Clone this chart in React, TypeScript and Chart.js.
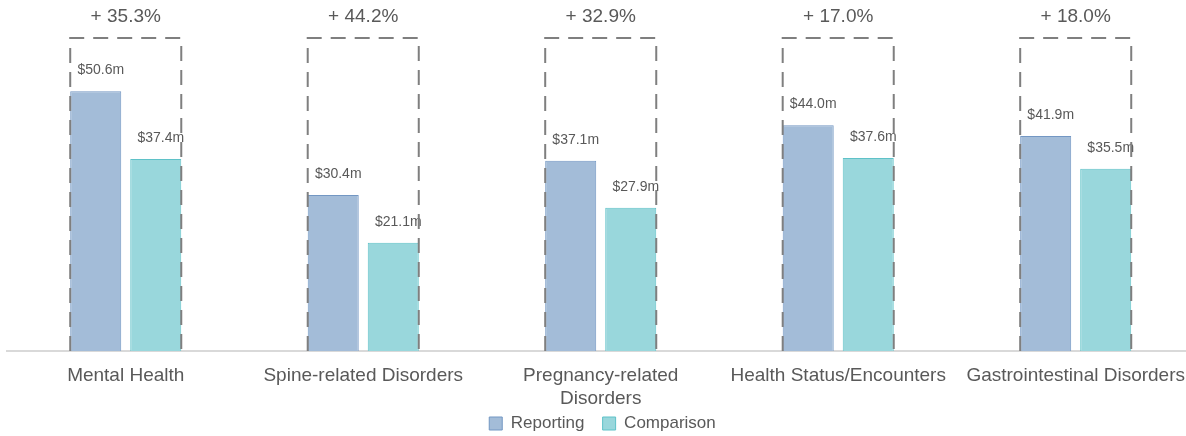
import React, { useEffect, useRef } from "react";
import { Chart, registerables } from "chart.js";

Chart.register(...registerables);

const categories: (string | string[])[] = [
  "Mental Health",
  "Spine-related Disorders",
  ["Pregnancy-related", "Disorders"],
  "Health Status/Encounters",
  "Gastrointestinal Disorders",
];
const reporting = [50.6, 30.4, 37.1, 44.0, 41.9];
const comparison = [37.4, 21.1, 27.9, 37.6, 35.5];
const changeLabels = ["+ 35.3%", "+ 44.2%", "+ 32.9%", "+ 17.0%", "+ 18.0%"];
const seriesNames = ["Reporting", "Comparison"];
const yMax = 61;

const FONT = "'Liberation Sans', Arial, Helvetica, sans-serif";
const TEXT = "#595959";

const overlayPlugin = {
  id: "overlay",
  afterDatasetsDraw(chart: any) {
    const ctx = chart.ctx;
    const m0 = chart.getDatasetMeta(0);
    const m1 = chart.getDatasetMeta(1);
    const yScale = chart.scales.y;
    const top = yScale.getPixelForValue(yMax);
    const base = yScale.getPixelForValue(0);
    ctx.save();
    ctx.font = `14px ${FONT}`;
    ctx.fillStyle = TEXT;
    ctx.textAlign = "center";
    ctx.textBaseline = "middle";
    [m0, m1].forEach((meta: any, di: number) => {
      meta.data.forEach((bar: any, i: number) => {
        const v = chart.data.datasets[di].data[i] as number;
        ctx.fillText(`$${v.toFixed(1)}m`, bar.x + 5, bar.y - 21);
      });
    });
    m0.data.forEach((b0: any, i: number) => {
      const b1 = m1.data[i];
      const left = b0.x - b0.width / 2;
      const right = b1.x + b1.width / 2;
      ctx.setLineDash([15, 9]);
      ctx.lineWidth = 2;
      ctx.strokeStyle = "#7f7f7f";
      ctx.beginPath();
      ctx.moveTo(left, base);
      ctx.lineTo(left, top);
      ctx.lineTo(right, top);
      ctx.lineTo(right, base);
      ctx.stroke();
      ctx.setLineDash([]);
      ctx.font = `19px ${FONT}`;
      ctx.fillStyle = TEXT;
      ctx.fillText(changeLabels[i], (left + right) / 2, top - 21);
    });
    ctx.restore();
  },
};

export default function App() {
  const ref = useRef<HTMLCanvasElement>(null);
  useEffect(() => {
    document.body.style.margin = "0";
    if (!ref.current) return;
    const chart = new Chart(ref.current, {
      type: "bar",
      data: {
        labels: categories,
        datasets: [
          {
            label: seriesNames[0],
            data: reporting,
            backgroundColor: "#a3bcd8",
            borderColor: "#7397c3",
            borderWidth: 1,
            categoryPercentage: 0.5055,
            barPercentage: 0.85,
          },
          {
            label: seriesNames[1],
            data: comparison,
            backgroundColor: "#99d7dc",
            borderColor: "#5fc2c8",
            borderWidth: 1,
            categoryPercentage: 0.5055,
            barPercentage: 0.85,
          },
        ],
      },
      options: {
        responsive: false,
        animation: false,
        devicePixelRatio: 1,
        layout: { padding: { left: 7, top: 38, right: 0, bottom: 0 } },
        scales: {
          x: {
            grid: { display: false, drawTicks: false },
            border: { display: true, color: "#d9d9d9", width: 2 },
            ticks: {
              color: TEXT,
              font: { family: FONT, size: 19, lineHeight: 1.21 },
              padding: 13,
              maxRotation: 0,
              autoSkip: false,
            },
            afterFit: (scale: any) => {
              scale.height -= 12;
            },
          },
          y: { display: false, min: 0, max: yMax },
        },
        plugins: {
          legend: {
            position: "bottom",
            labels: {
              color: TEXT,
              font: { family: FONT, size: 17 },
              boxWidth: 13,
              boxHeight: 13,
              padding: 4,
              generateLabels: (c: any) =>
                Chart.defaults.plugins.legend.labels
                  .generateLabels(c)
                  .map((l: any, i: number) => ({ ...l, text: i === 0 ? l.text + "   " : l.text })),
            },
          },
          tooltip: { enabled: false },
        },
      },
      plugins: [overlayPlugin],
    });
    return () => chart.destroy();
  }, []);
  return (
    <div style={{ width: 1186, height: 436, overflow: "hidden", background: "#fff" }}>
      <canvas ref={ref} width={1198} height={442} style={{ width: 1198, height: 442, display: "block" }} />
    </div>
  );
}
